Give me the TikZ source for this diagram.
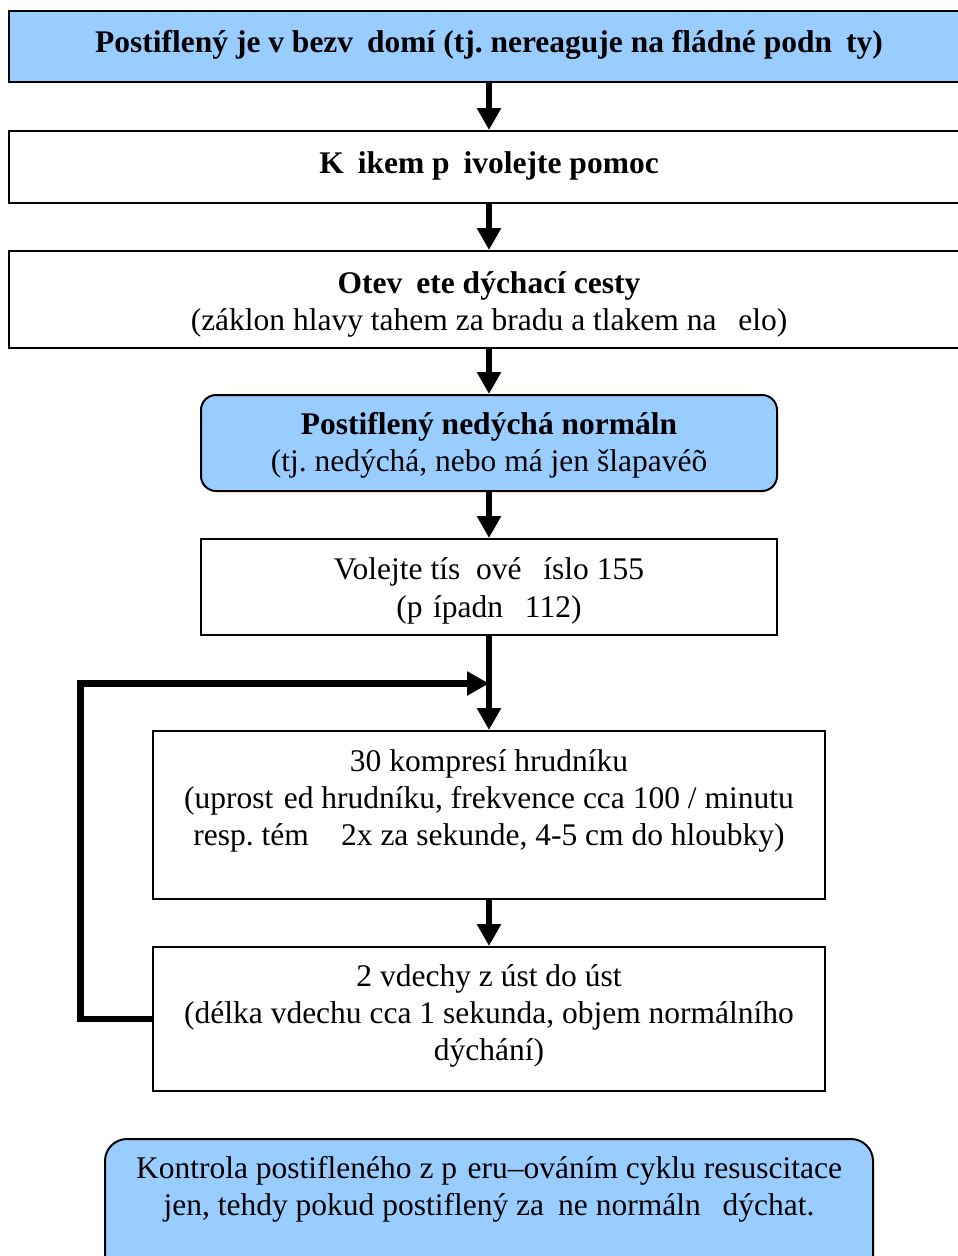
\documentclass[tikz,border=0pt]{standalone}
\usepackage{fontspec}
\setmainfont{Liberation Serif}
\usetikzlibrary{arrows.meta}
\definecolor{boxblue}{RGB}{153,204,255}
\newcommand{\gp}[1]{\hspace{#1em}}
\frenchspacing
\begin{document}
\begin{tikzpicture}[x=1pt,y=-1pt,
  box/.style={draw=black, line width=2pt, rectangle, inner sep=0pt, fill=white},
  bluebox/.style={box, fill=boxblue},
  txt/.style={anchor=base, inner sep=0pt, font=\fontsize{31.5}{37.5}\selectfont},
  btxt/.style={txt, font=\fontsize{31.5}{37.5}\selectfont\bfseries},
  flow/.style={line width=6.5pt, -{Triangle[width=23pt,length=22pt]}, line join=miter}]
\useasboundingbox (0,0) rectangle (958,1256);
\clip (0,0) rectangle (958,1256);
\coordinate (ax) at (489,0);
% boxes
\node[bluebox, minimum width=966pt, minimum height=71pt] (b1) at (492,46.5) {};
\node[box, minimum width=966pt, minimum height=72pt] (b2) at (492,167) {};
\node[box, minimum width=966pt, minimum height=97pt] (b3) at (492,299.5) {};
\node[bluebox, rounded corners=15pt, minimum width=576pt, minimum height=96pt] (b4) at (489,443) {};
\node[box, minimum width=576pt, minimum height=96pt] (b5) at (489,587) {};
\node[box, minimum width=672pt, minimum height=168pt] (b6) at (489,815) {};
\node[box, minimum width=672pt, minimum height=144pt] (b7) at (489,1019) {};
\node[bluebox, rounded corners=22pt, minimum width=768pt, minimum height=161pt] (b8) at (489,1219.5) {};
% texts
\node[btxt] (t1) at (489,52) {Postiflený je v bezv\gp{0.444}domí (tj. nereaguje na fládné podn\gp{0.444}ty)};
\node[btxt] (t2) at (489,173) {K\gp{0.444}ikem p\gp{0.444}ivolejte pomoc};
\node[btxt] (t3a) at (489,293) {Otev\gp{0.444}ete dýchací cesty};
\node[txt] (t3b) at (489,330) {(záklon hlavy tahem za bradu a tlakem na \gp{0.444}elo)};
\node[btxt] (t4a) at (489,434) {Postiflený nedýchá normáln};
\node[txt] (t4b) at (489,471) {(tj. nedýchá, nebo má jen šlapavéõ};
\node[txt] (t5a) at (489,579) {Volejte tís\gp{0.5}ové \gp{0.444}íslo 155};
\node[txt] (t5b) at (489,617) {(p\gp{0.333}ípadn\gp{0.444} 112)};
\node[txt] (t6a) at (489,771) {30 kompresí hrudníku};
\node[txt] (t6b) at (489,808) {(uprost\gp{0.333}ed hrudníku, frekvence cca 100 / minutu};
\node[txt] (t6c) at (489,845) {resp. tém\gp{0.777} 2x za sekunde, 4-5 cm do hloubky)};
\node[txt] (t7a) at (489,986) {2 vdechy z úst do úst};
\node[txt] (t7b) at (489,1023) {(délka vdechu cca 1 sekunda, objem normálního};
\node[txt] (t7c) at (489,1060) {dýchání)};
\node[txt] (t8a) at (489,1178) {Kontrola postifleného z p\gp{0.333}eru–ováním cyklu resuscitace};
\node[txt] (t8b) at (489,1215) {jen, tehdy pokud postiflený za\gp{0.444}ne normáln\gp{0.444} dýchat.};
% connectors
\draw[flow] (b1.south -| ax) -- (b2.north -| ax);
\draw[flow] (b2.south -| ax) -- (b3.north -| ax);
\draw[flow] (b3.south -| ax) -- (b4.north -| ax);
\draw[flow] (b4.south -| ax) -- (b5.north -| ax);
\draw[flow] (b5.south -| ax) -- (b6.north -| ax);
\draw[flow] (b6.south -| ax) -- (b7.north -| ax);
\coordinate (lp) at (80.5,683.5);
\draw[flow] (b7.west) -| (lp) -- (lp -| ax);
\end{tikzpicture}
\end{document}
